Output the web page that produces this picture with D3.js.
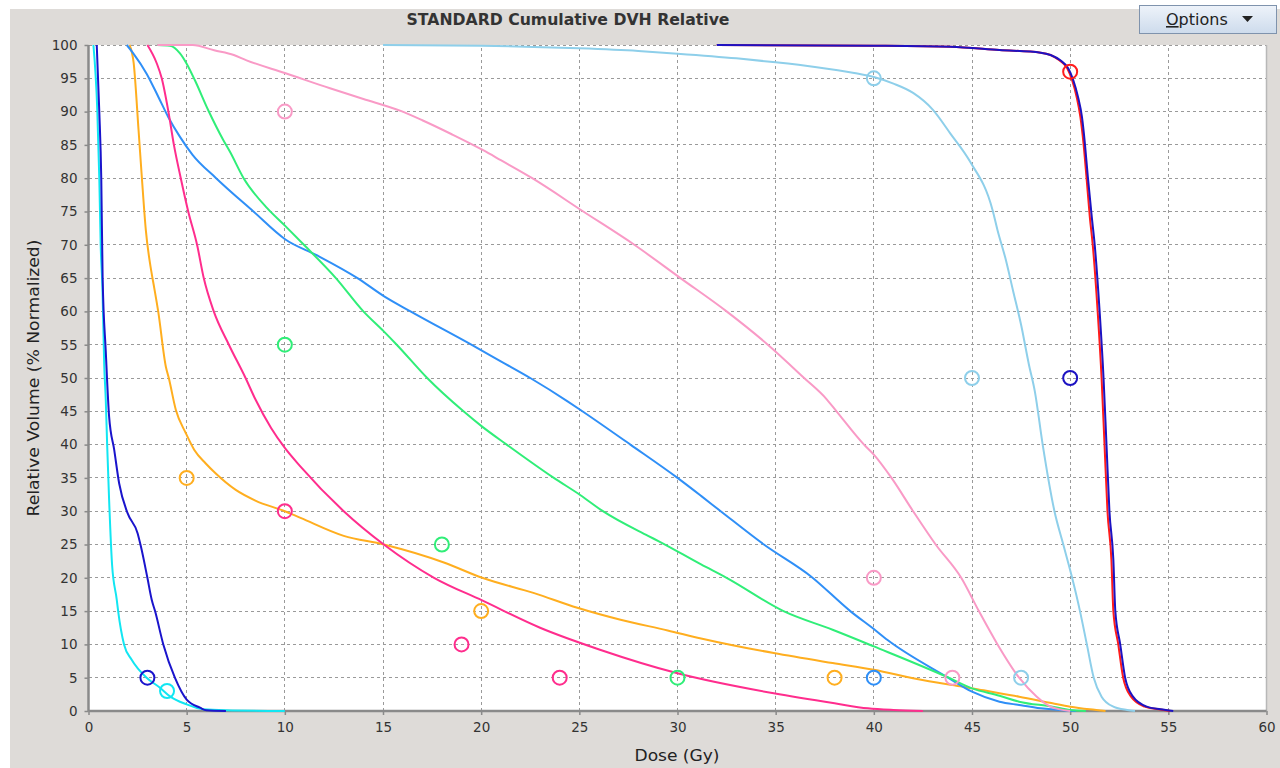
<!DOCTYPE html>
<html>
<head>
<meta charset="utf-8">
<script src="https://cdn.jsdelivr.net/npm/d3@7"></script>
<style>
  html, body { margin: 0; padding: 0; background: #ffffff; }
  svg { display: block; }
</style>
</head>
<body>
<svg id="chart" width="1280" height="768"></svg>
<script>
// ---------- DATA ----------
const chartTitle = "STANDARD Cumulative DVH Relative";
const xLabel = "Dose (Gy)";
const yLabel = "Relative Volume (% Normalized)";
const xTicks = [0, 5, 10, 15, 20, 25, 30, 35, 40, 45, 50, 55, 60];
const yTicks = [0, 5, 10, 15, 20, 25, 30, 35, 40, 45, 50, 55, 60, 65, 70, 75, 80, 85, 90, 95, 100];

const cyanDose = [0.25, 0.45, 0.55, 0.62, 0.71, 0.8, 0.88, 0.95, 1.05, 1.2, 1.44, 1.51, 1.81, 2.2, 2.96, 3.64, 4.15, 5.0, 5.85, 7.0, 10.0];
const cyanVol  = [100, 90, 80, 70, 63.5, 52, 46.7, 40, 31.7, 22, 16.7, 15, 10, 7.7, 5, 3.5, 2.2, 1.0, 0.25, 0.1, 0];

const navyLowDose = [0.42, 0.55, 0.65, 0.72, 0.88, 1.05, 1.31, 1.56, 1.99, 2.5, 2.67, 3.0, 3.22, 3.39, 3.81, 4.4, 5.0, 5.68, 6.0, 7.0];
const navyLowVol  = [100, 90, 80, 65, 54, 44.2, 39.2, 34.2, 29.7, 26.7, 24.7, 20, 16.7, 15, 10, 5, 1.7, 0.5, 0.1, 0];

const orangeDose = [2.09, 2.3, 2.55, 2.72, 2.92, 3.2, 3.35, 3.55, 3.94, 4.09, 4.45, 4.96, 5.39, 5.96, 6.47, 7.5, 8.5, 10.0, 10.8, 13.0, 15.04, 18.1, 20.05, 22.7, 24.9, 27.1, 29.5, 31.2, 34.9, 37.9, 40.0, 42.2, 44.4, 45.6, 46.4, 47.4, 49.1, 50.0, 51.0, 51.8];
const orangeVol  = [100, 97.3, 87.2, 80, 72.2, 66, 63.5, 60, 51.7, 50, 45.2, 41.7, 39.2, 37.2, 35.7, 33.2, 31.6, 30, 29, 26.3, 25, 22.3, 20, 17.7, 15.5, 13.7, 12.1, 10.9, 8.7, 7.2, 6.2, 4.8, 3.7, 3.1, 2.65, 2.15, 1.15, 0.65, 0.25, 0];

const blueDose = [1.95, 2.28, 2.96, 3.56, 4.06, 4.66, 5.3, 6.5, 8.4, 10.03, 11.65, 13.7, 15.04, 16.4, 19.5, 21.0, 22.5, 24.4, 25.06, 27.6, 30.0, 31.2, 32.2, 34.4, 36.8, 38.8, 40.0, 40.7, 43.7, 45.0, 46.4, 47.4, 48.5, 49.6, 50.3];
const blueVol  = [100, 98.75, 95.7, 92.2, 89.2, 86.2, 83.5, 80, 75, 70.8, 68.4, 65, 62.3, 60, 55, 52.5, 50, 46.5, 45.2, 40, 35, 32.3, 30, 25, 20.2, 15, 12.3, 10.66, 5.15, 2.9, 1.4, 0.9, 0.4, 0.1, 0];

const magentaDose = [3.0, 3.47, 3.73, 4.07, 4.35, 4.7, 5.08, 5.53, 5.87, 6.38, 7.15, 8.0, 8.5, 9.3, 10.0, 10.8, 13.0, 15.04, 17.6, 20.05, 23.0, 26.05, 30.0, 34.9, 38.0, 39.7, 41.0, 42.5];
const magentaVol  = [100, 97.3, 95, 90, 85, 80, 75, 70, 65, 60, 55, 50, 46.8, 42.5, 39.5, 36.7, 30, 25, 20, 16.6, 12.5, 9.2, 5.66, 2.65, 1.15, 0.4, 0.15, 0];

const greenDose = [3.5, 4.15, 4.66, 5.0, 5.42, 6.1, 6.87, 7.2, 7.9, 9.1, 10.03, 10.97, 12.6, 14.0, 15.04, 15.7, 17.25, 19.1, 20.05, 21.3, 23.7, 25.06, 26.2, 28.5, 29.1, 31.2, 32.5, 35.4, 37.9, 40.0, 43.7, 45.0, 46.4, 47.4, 49.1, 50.0, 50.8];
const greenVol  = [100, 99.9, 98.75, 97.2, 94.7, 90.2, 85.7, 84, 80, 75.5, 72.8, 70, 65, 60, 57, 55, 50, 45, 42.7, 40, 35, 32.4, 30, 26.3, 25.4, 22, 20, 15, 12.2, 9.7, 5.15, 3.4, 2.3, 1.4, 0.65, 0.15, 0];

const pinkDose = [3.5, 5.3, 6.4, 7.4, 8.05, 10.0, 12.3, 14.0, 15.9, 17.0, 18.5, 20.1, 21.0, 22.6, 25.2, 27.8, 30.15, 32.5, 34.6, 36.45, 37.6, 38.1, 39.5, 40.0, 40.9, 42.0, 43.15, 44.45, 45.35, 46.3, 47.4, 48.3, 49.0, 50.0];
const pinkVol  = [100, 100, 99.2, 98.5, 97.7, 95.8, 93.5, 91.9, 90.1, 88.7, 86.6, 84.2, 82.7, 80, 75, 70, 65, 60, 55, 50, 46.8, 45, 40, 38.5, 35, 30, 25, 20, 15, 10, 5, 2.15, 0.65, 0];

const skyDose = [15, 20, 25, 28, 30, 33, 35, 37, 39, 40, 41, 42, 43, 43.9, 44.9, 46.05, 46.3, 46.7, 47.1, 47.5, 47.9, 48.2, 48.6, 49.2, 49.65, 50.1, 50.5, 50.85, 51.2, 51.6, 52.2, 52.9, 53.3];
const skyVol  = [100, 99.9, 99.5, 99.1, 98.7, 98, 97.4, 96.7, 95.8, 95.2, 94.2, 92.8, 90.3, 86.7, 82.5, 75.2, 72.2, 68, 63, 58, 52, 48, 40, 30, 25, 20, 15, 10, 5, 2.15, 0.65, 0.15, 0];

const redDose = [32, 40, 43.9, 46.4, 48.5, 49.0, 49.45, 49.85, 50.1, 50.33, 50.52, 50.68, 50.83, 51.0, 51.15, 51.4, 51.6, 51.75, 51.9, 52.1, 52.2, 52.45, 52.7, 53.1, 53.8, 54.5, 55.1];
const redVol  = [100, 99.9, 99.75, 99.25, 98.85, 98.5, 97.7, 96.5, 94.7, 92.2, 89.2, 85.2, 80.2, 74.2, 70, 60, 50, 40, 30, 22.7, 15, 10, 5, 2.15, 0.65, 0.25, 0];

const navyHighDose = [32, 40, 43.9, 46.4, 48.5, 49.0, 49.5, 49.9, 50.16, 50.4, 50.6, 50.75, 50.9, 51.1, 51.25, 51.5, 51.7, 51.85, 52.0, 52.2, 52.3, 52.55, 52.8, 53.2, 53.9, 54.6, 55.25];
const navyHighVol  = [100, 99.9, 99.75, 99.25, 98.85, 98.5, 97.7, 96.5, 94.7, 92.2, 89.2, 85.2, 80.2, 74.2, 70, 60, 50, 40, 30, 22.7, 15, 10, 5, 2.15, 0.65, 0.25, 0];

const seriesNames  = ["cyan", "navyLow", "orange", "blue", "magenta", "green", "pink", "sky", "red", "navyHigh"];
const seriesColors = ["#12e6f2", "#1a14cc", "#ffae1f", "#2f8ff7", "#ff2d8d", "#30ee78", "#f99ac6", "#8ecfea", "#ff1c1c", "#1c12c2"];
const seriesDoses  = [cyanDose, navyLowDose, orangeDose, blueDose, magentaDose, greenDose, pinkDose, skyDose, redDose, navyHighDose];
const seriesVols   = [cyanVol, navyLowVol, orangeVol, blueVol, magentaVol, greenVol, pinkVol, skyVol, redVol, navyHighVol];

// constraint markers (circles)
const markerSeries = ["pink", "pink", "pink", "sky", "sky", "sky", "red", "navyHigh", "navyLow", "green", "green", "green", "orange", "orange", "orange", "magenta", "magenta", "magenta", "blue", "cyan"];
const markerDose   = [10, 40, 44, 40, 45, 47.5, 50, 50, 3, 10, 18, 30, 5, 20, 38, 10, 19, 24, 40, 4];
const markerVol    = [90, 20, 5, 95, 50, 5, 96, 50, 5, 55, 25, 5, 35, 15, 5, 30, 10, 5, 5, 3];

// ---------- DRAW ----------
const svg = d3.select("#chart");
const font = "'DejaVu Sans', Verdana, sans-serif";

// background
svg.append("rect").attr("x", 0).attr("y", 0).attr("width", 1280).attr("height", 768).attr("fill", "#ffffff");
svg.append("rect").attr("x", 10).attr("y", 9).attr("width", 1270).attr("height", 759).attr("fill", "#dedbd8");

const x = d3.scaleLinear().domain([0, 60]).range([88.5, 1266.5]);
const y = d3.scaleLinear().domain([0, 100]).range([711, 45]);

// plot area
svg.append("rect")
  .attr("x", x(0)).attr("y", y(100))
  .attr("width", x(60) - x(0)).attr("height", y(0) - y(100))
  .attr("fill", "#ffffff");

// grid
const grid = svg.append("g");
grid.selectAll("line.h").data(yTicks.filter(d => d > 0)).join("line")
  .attr("x1", x(0)).attr("x2", x(60))
  .attr("y1", d => y(d)).attr("y2", d => y(d))
  .attr("stroke", "#9a9a9a").attr("stroke-width", 1).attr("stroke-dasharray", "3,3")
  .attr("shape-rendering", "crispEdges");
grid.selectAll("line.v").data(xTicks.filter(d => d > 0 && d < 60)).join("line")
  .attr("x1", d => x(d)).attr("x2", d => x(d))
  .attr("y1", y(0)).attr("y2", y(100))
  .attr("stroke", "#9a9a9a").attr("stroke-width", 1).attr("stroke-dasharray", "3,3")
  .attr("shape-rendering", "crispEdges");
// right border
svg.append("line").attr("x1", x(60)).attr("x2", x(60)).attr("y1", y(100)).attr("y2", y(0))
  .attr("stroke", "#b8b8b8").attr("stroke-width", 1.5);

// axes
const yAxis = svg.append("g").attr("transform", `translate(${x(0)},0)`)
  .call(d3.axisLeft(y).tickValues(yTicks).tickSize(4).tickPadding(7).tickFormat(d3.format("d")));
const xAxis = svg.append("g").attr("transform", `translate(0,${y(0)})`)
  .call(d3.axisBottom(x).tickValues(xTicks).tickSize(4).tickPadding(7).tickFormat(d3.format("d")));
[yAxis, xAxis].forEach(g => {
  g.select(".domain").attr("stroke", "#8a8a8a").attr("stroke-width", 2.5);
  g.selectAll(".tick line").attr("stroke", "#8a8a8a").attr("stroke-width", 1.5);
  g.selectAll(".tick text").attr("fill", "#333").style("font-family", font).style("font-size", "13.5px");
});
yAxis.select(".domain").attr("d", `M0,${y(100)}V${y(0)}`);
xAxis.select(".domain").attr("d", `M${x(0)},0H${x(60)}`);

// curves
const line = d3.line().x(d => x(d[0])).y(d => y(d[1])).curve(d3.curveMonotoneX);
const curvesG = svg.append("g");
seriesNames.forEach((name, i) => {
  const pts = d3.zip(seriesDoses[i], seriesVols[i]);
  curvesG.append("path")
    .datum(pts)
    .attr("d", line)
    .attr("fill", "none")
    .attr("stroke", seriesColors[i])
    .attr("stroke-width", 2)
    .attr("stroke-linejoin", "round");
});

// markers
const colorOf = name => seriesColors[seriesNames.indexOf(name)];
svg.append("g").selectAll("circle")
  .data(d3.range(markerDose.length))
  .join("circle")
  .attr("cx", i => x(markerDose[i]))
  .attr("cy", i => y(markerVol[i]))
  .attr("r", 7)
  .attr("fill", "none")
  .attr("stroke", i => colorOf(markerSeries[i]))
  .attr("stroke-width", 2);

// titles
svg.append("text").attr("x", 568).attr("y", 25).attr("text-anchor", "middle")
  .attr("textLength", 323).attr("lengthAdjust", "spacingAndGlyphs")
  .style("font-family", font).style("font-size", "15px").style("font-weight", "bold")
  .attr("fill", "#333").text(chartTitle);
svg.append("text").attr("x", 677).attr("y", 761).attr("text-anchor", "middle")
  .attr("textLength", 85).attr("lengthAdjust", "spacingAndGlyphs")
  .style("font-family", font).style("font-size", "16px").attr("fill", "#222").text(xLabel);
svg.append("text").attr("transform", "translate(39,378) rotate(-90)").attr("text-anchor", "middle")
  .attr("textLength", 277).attr("lengthAdjust", "spacingAndGlyphs")
  .style("font-family", font).style("font-size", "16px").attr("fill", "#222").text(yLabel);

// Options button
const defs = svg.append("defs");
const grad = defs.append("linearGradient").attr("id", "btnGrad").attr("x1", 0).attr("y1", 0).attr("x2", 0).attr("y2", 1);
grad.append("stop").attr("offset", "0%").attr("stop-color", "#eef3fa");
grad.append("stop").attr("offset", "100%").attr("stop-color", "#cddbec");
svg.append("rect").attr("x", 1139.5).attr("y", 5.5).attr("width", 137).attr("height", 28)
  .attr("fill", "url(#btnGrad)").attr("stroke", "#7f93ad").attr("stroke-width", 1);
const opt = svg.append("text").attr("x", 1166).attr("y", 25)
  .style("font-family", font).style("font-size", "16px").attr("fill", "#222");
opt.append("tspan").style("text-decoration", "underline").text("O");
opt.append("tspan").text("ptions");
svg.append("path").attr("d", "M1242,16 L1253,16 L1247.5,22 Z").attr("fill", "#222");
</script>
</body>
</html>
